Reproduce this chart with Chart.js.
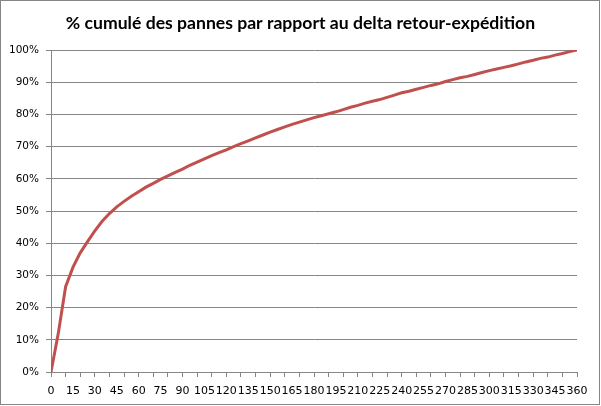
<!DOCTYPE html>
<html>
<head>
<meta charset="utf-8">
<script src="https://cdn.jsdelivr.net/npm/chart.js@4.4.1/dist/chart.umd.min.js"></script>
<style>
  html, body { margin: 0; padding: 0; background: #ffffff; }
  #wrap { width: 601px; height: 406px; position: relative; }
</style>
</head>
<body>
<div id="wrap"><canvas id="c" width="601" height="406"></canvas></div>
<script>
// Title
const chartTitle = "% cumulé des pannes par rapport au delta retour-expédition";

// Delta retour-expédition (days)
const days = [
  0, 5, 10, 15, 20, 25, 30, 35, 40, 45, 50, 55, 60, 65, 70, 75, 80, 85, 90, 95,
  100, 105, 110, 115, 120, 125, 130, 135, 140, 145, 150, 155, 160, 165, 170, 175,
  180, 185, 190, 195, 200, 205, 210, 215, 220, 225, 230, 235, 240, 245, 250, 255,
  260, 265, 270, 275, 280, 285, 290, 295, 300, 305, 310, 315, 320, 325, 330, 335,
  340, 345, 350, 355, 360
];

// Cumulative % of failures
const cumulPct = [
  0, 12, 26.5, 32.5, 37, 40.5, 43.8, 46.8, 49.2, 51.3, 53, 54.6, 56, 57.4, 58.6, 59.8, 60.9, 62, 63, 64.2,
  65.2, 66.2, 67.2, 68.1, 69, 70, 70.9, 71.8, 72.7, 73.6, 74.5, 75.3, 76.1, 76.9, 77.6, 78.3,
  79, 79.6, 80.2, 80.8, 81.5, 82.2, 82.8, 83.5, 84.1, 84.6, 85.3, 86, 86.7, 87.2, 87.8, 88.4,
  89, 89.5, 90.2, 90.8, 91.4, 91.8, 92.4, 93, 93.6, 94.1, 94.6, 95.1, 95.7, 96.3, 96.8, 97.4,
  97.8, 98.4, 98.9, 99.5, 100
];

// Axis ticks
const xLabelStep = 15;
const xTickMarkStep = 10;
const yTicks = [0, 10, 20, 30, 40, 50, 60, 70, 80, 90, 100];

const points = days.map((d, i) => ({ x: d, y: cumulPct[i] }));

const gridGray = '#868686';
const fontFam = '"DejaVu Sans", Verdana, sans-serif';

const decorPlugin = {
  id: 'decor',
  beforeDraw(chart) {
    const ctx = chart.ctx;
    ctx.save();
    ctx.fillStyle = '#ffffff';
    ctx.fillRect(0, 0, chart.width, chart.height);
    ctx.restore();
  },
  afterDraw(chart) {
    const ctx = chart.ctx;
    ctx.save();
    ctx.strokeStyle = gridGray;
    ctx.lineWidth = 1;
    ctx.strokeRect(0.5, 0.5, chart.width - 2, chart.height - 2);
    ctx.fillStyle = '#000000';
    ctx.font = 'bold 17.6px Lato, "Open Sans", sans-serif';
    ctx.textAlign = 'center';
    ctx.textBaseline = 'alphabetic';
    ctx.fillText(chartTitle, 300.5, 28.5);
    ctx.restore();
  }
};

new Chart(document.getElementById('c'), {
  type: 'line',
  data: {
    datasets: [{
      data: points,
      borderColor: '#C0504D',
      borderWidth: 3,
      pointRadius: 0,
      tension: 0,
      fill: false
    }]
  },
  options: {
    responsive: false,
    animation: false,
    layout: { padding: { left: 0, right: 24, top: 50, bottom: 0 } },
    plugins: {
      legend: { display: false },
      tooltip: { enabled: false },
      title: { display: false }
    },
    scales: {
      x: {
        type: 'linear',
        min: 0,
        max: 360,
        afterFit(scale) { scale.height = 34; },
        ticks: {
          stepSize: 5,
          maxTicksLimit: 200,
          autoSkip: false,
          maxRotation: 0,
          minRotation: 0,
          padding: 8,
          color: '#000000',
          font: { family: fontFam, size: 11 },
          callback: (v) => (v % xLabelStep === 0 ? String(v) : '')
        },
        grid: {
          drawOnChartArea: false,
          drawTicks: true,
          tickLength: 5,
          tickColor: (ctx) => (ctx.tick && ctx.tick.value % xTickMarkStep === 0 ? gridGray : 'rgba(0,0,0,0)')
        },
        border: { color: gridGray, width: 1 }
      },
      y: {
        min: 0,
        max: 100,
        afterFit(scale) { scale.width = 51; },
        afterBuildTicks(scale) { scale.ticks = yTicks.map(v => ({ value: v })); },
        ticks: {
          color: '#000000',
          padding: 7,
          font: { family: fontFam, size: 10.5 },
          callback: (v) => v + '%'
        },
        grid: {
          color: gridGray,
          tickLength: 5,
          tickColor: gridGray
        },
        border: { color: gridGray, width: 1 }
      }
    }
  },
  plugins: [decorPlugin]
});
</script>
</body>
</html>
